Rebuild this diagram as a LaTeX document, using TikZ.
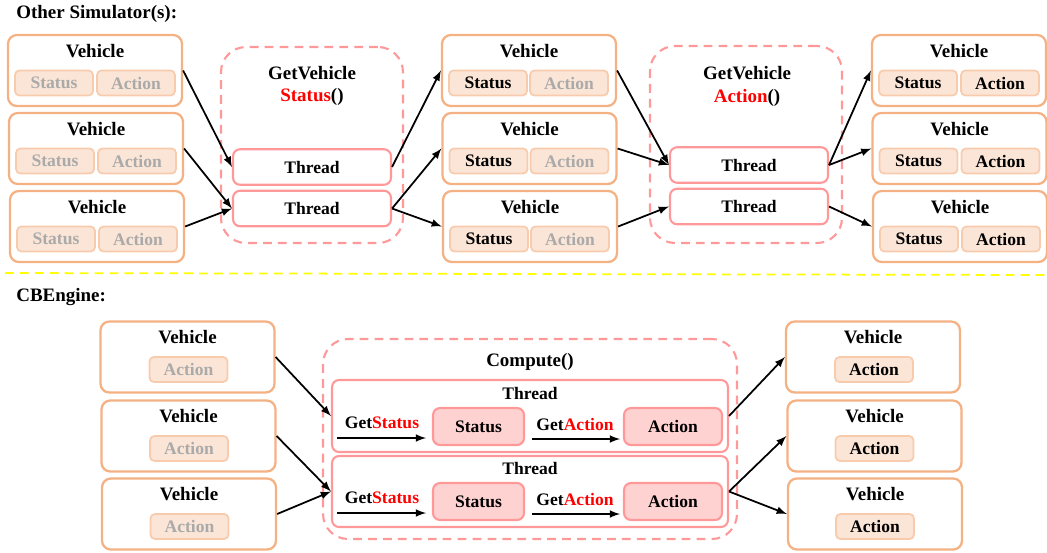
\documentclass[tikz,border=0pt]{standalone}
\usepackage{fontspec}
\setmainfont{Liberation Serif}
\usepackage{xcolor}
\usetikzlibrary{shapes,arrows,positioning,calc}
\definecolor{vehorange}{RGB}{244,177,131}
\definecolor{subfill}{RGB}{251,229,214}
\definecolor{subborder}{RGB}{248,203,173}
\definecolor{fadegray}{RGB}{170,170,170}
\definecolor{thrpink}{RGB}{255,153,153}
\definecolor{boxpink}{RGB}{255,210,210}
\definecolor{sepyellow}{RGB}{255,255,0}

\begin{document}
\begin{tikzpicture}[x=0.02cm, y=-0.02cm,
    vehicle/.style={rectangle, rounded corners=5pt, draw=vehorange, line width=1.3pt, minimum width=3.48cm, inner sep=0pt, text height=0.44cm, text depth=0.98cm, font=\fontsize{10.8}{13}\selectfont\bfseries},
    sub/.style={rectangle, rounded corners=2.5pt, draw=subborder, fill=subfill, line width=1pt, minimum width=1.56cm, minimum height=0.5cm, inner sep=0pt, font=\fontsize{10}{12}\selectfont\bfseries},
    faded/.style={sub, text=fadegray},
    group/.style={rectangle, rounded corners=0.5cm, draw=thrpink, line width=1.2pt, dash pattern=on 5pt off 3.5pt},
    thread/.style={rectangle, rounded corners=4pt, draw=thrpink, line width=1.2pt, minimum width=3.16cm, minimum height=0.71cm, inner sep=0pt, font=\fontsize{10}{12}\selectfont\bfseries},
    result/.style={rectangle, rounded corners=4pt, draw=thrpink, fill=boxpink, line width=1.2pt, minimum height=0.74cm, inner sep=0pt, font=\fontsize{10}{12}\selectfont\bfseries},
    lbl/.style={font=\fontsize{10.8}{13}\selectfont\bfseries},
    small/.style={font=\fontsize{10}{12}\selectfont\bfseries},
    flow/.style={-latex, line width=1pt},
]
    \useasboundingbox (0,0) rectangle (1047,552);

    % Other simulators
    \node[lbl, anchor=west, inner sep=0pt] (ostitle) at (16,14) {Other Simulator(s):};

    \node[vehicle] (va1) at (95,70.5) {Vehicle};
    \node[faded] (va1s) at (54,83) {Status};
    \node[faded] (va1a) at (136,83) {Action};
    \node[vehicle] (va2) at (96,148.5) {Vehicle};
    \node[faded] (va2s) at (55,161) {Status};
    \node[faded] (va2a) at (137,161) {Action};
    \node[vehicle] (va3) at (97,226.5) {Vehicle};
    \node[faded] (va3s) at (56,239) {Status};
    \node[faded] (va3a) at (138,239) {Action};

    \node[group, minimum width=3.64cm, minimum height=3.92cm] (gstat) at (312,145) {};
    \node[lbl] (gstat1) at (312,73) {GetVehicle};
    \node[lbl] (gstat2) at (312,97) {\textcolor{red}{Status}()};
    \node[thread] (ts1) at (312,167) {Thread};
    \node[thread] (ts2) at (312,208.5) {Thread};

    \node[vehicle] (vb1) at (529,70.5) {Vehicle};
    \node[sub] (vb1s) at (488,83) {Status};
    \node[faded] (vb1a) at (569,83) {Action};
    \node[vehicle] (vb2) at (529.5,148.5) {Vehicle};
    \node[sub] (vb2s) at (488.5,161) {Status};
    \node[faded] (vb2a) at (569.5,161) {Action};
    \node[vehicle] (vb3) at (530,226.5) {Vehicle};
    \node[sub] (vb3s) at (489,239) {Status};
    \node[faded] (vb3a) at (570,239) {Action};

    \node[group, minimum width=3.84cm, minimum height=3.94cm] (gact) at (746,144.5) {};
    \node[lbl] (gact1) at (747,73) {GetVehicle};
    \node[lbl] (gact2) at (747,98) {\textcolor{red}{Action}()};
    \node[thread] (ta1) at (749,165) {Thread};
    \node[thread] (ta2) at (749,206.5) {Thread};

    \node[vehicle] (vc1) at (959,70.5) {Vehicle};
    \node[sub] (vc1s) at (918,83) {Status};
    \node[sub] (vc1a) at (1000,83) {Action};
    \node[vehicle] (vc2) at (959.5,148.5) {Vehicle};
    \node[sub] (vc2s) at (918.5,161) {Status};
    \node[sub] (vc2a) at (1000.5,161) {Action};
    \node[vehicle] (vc3) at (960,226.5) {Vehicle};
    \node[sub] (vc3s) at (919,239) {Status};
    \node[sub] (vc3a) at (1001,239) {Action};

    \draw[flow] (va1.east) -- (ts1.west);
    \draw[flow] (va2.east) -- (ts2.west);
    \draw[flow] (va3.east) -- (ts2.west);
    \draw[flow] (ts1.east) -- (vb1.west);
    \draw[flow] (ts2.east) -- (vb2.west);
    \draw[flow] (ts2.east) -- (vb3.west);
    \draw[flow] (vb1.east) -- (ta1.west);
    \draw[flow] (vb2.east) -- (ta1.west);
    \draw[flow] (vb3.east) -- (ta2.west);
    \draw[flow] (ta1.east) -- (vc1.west);
    \draw[flow] (ta1.east) -- (vc2.west);
    \draw[flow] (ta2.east) -- (vc3.west);

    % Separator
    \draw[sepyellow, line width=1pt, dash pattern=on 5pt off 3.5pt] (5,273) -- (1047,275);

    % CBEngine
    \node[lbl, anchor=west, inner sep=0pt] (cbtitle) at (16,297) {CBEngine:};

    \node[vehicle] (la1) at (187.5,357) {Vehicle};
    \node[faded] (la1a) at (188.5,369.5) {Action};
    \node[vehicle] (la2) at (188.5,436) {Vehicle};
    \node[faded] (la2a) at (189,448.5) {Action};
    \node[vehicle] (la3) at (189,514) {Vehicle};
    \node[faded] (la3a) at (189.5,526.5) {Action};

    \node[group, minimum width=8.28cm, minimum height=4cm] (comp) at (530,439) {};
    \node[lbl] (comptitle) at (530,362) {Compute()};

    \node[thread, minimum width=7.92cm, minimum height=1.44cm] (ct1) at (530,416) {};
    \node[small] (ct1l) at (530,393) {Thread};
    \node[small] (gs1) at (382,423) {Get\textcolor{red}{Status}};
    \coordinate (gs1a) at (337,438);
    \coordinate (gs1b) at (426,438);
    \node[result, minimum width=1.82cm] (st1) at (478.5,426.5) {Status};
    \node[small] (ga1) at (575,424) {Get\textcolor{red}{Action}};
    \coordinate (ga1a) at (532,439);
    \coordinate (ga1b) at (620,439);
    \node[result, minimum width=1.96cm] (ac1) at (673,426.5) {Action};

    \node[thread, minimum width=7.92cm, minimum height=1.42cm] (ct2) at (530,491.5) {};
    \node[small] (ct2l) at (530,468) {Thread};
    \node[small] (gs2) at (382,498) {Get\textcolor{red}{Status}};
    \coordinate (gs2a) at (337,513);
    \coordinate (gs2b) at (426,513);
    \node[result, minimum width=1.82cm] (st2) at (478.5,501.5) {Status};
    \node[small] (ga2) at (575,499) {Get\textcolor{red}{Action}};
    \coordinate (ga2a) at (532,514);
    \coordinate (ga2b) at (620,514);
    \node[result, minimum width=1.96cm] (ac2) at (673,501.5) {Action};

    \draw[flow] (gs1a) -- (gs1b);
    \draw[flow] (ga1a) -- (ga1b);
    \draw[flow] (gs2a) -- (gs2b);
    \draw[flow] (ga2a) -- (ga2b);

    \node[vehicle] (ra1) at (873,357) {Vehicle};
    \node[sub] (ra1a) at (874,369.5) {Action};
    \node[vehicle] (ra2) at (874.5,436) {Vehicle};
    \node[sub] (ra2a) at (874.5,448.5) {Action};
    \node[vehicle] (ra3) at (875,514) {Vehicle};
    \node[sub] (ra3a) at (875,526.5) {Action};

    \draw[flow] (la1.east) -- (ct1.west);
    \draw[flow] (la2.east) -- (ct2.west);
    \draw[flow] (la3.east) -- (ct2.west);
    \draw[flow] (ct1.east) -- (ra1.west);
    \draw[flow] (ct2.east) -- (ra2.west);
    \draw[flow] (ct2.east) -- (ra3.west);
\end{tikzpicture}
\end{document}
